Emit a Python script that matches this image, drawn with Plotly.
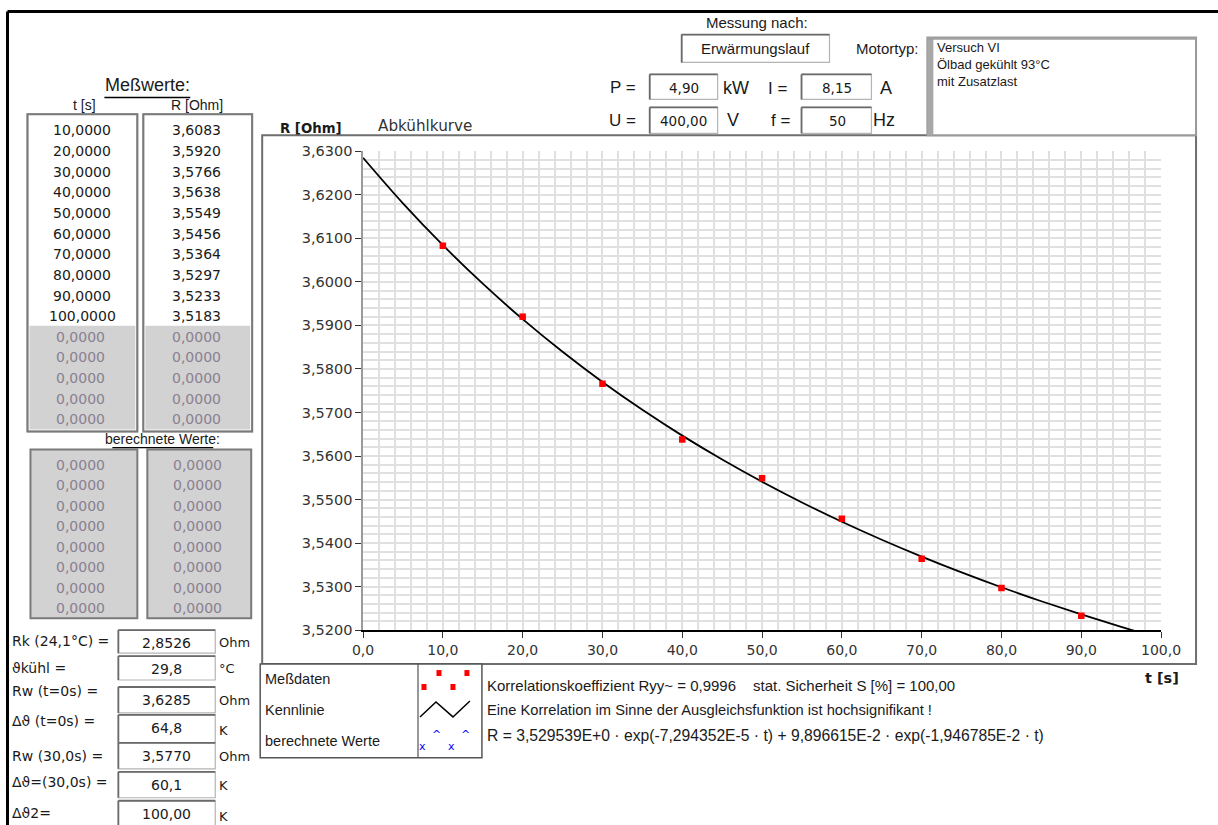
import plotly.graph_objects as go

# The photographed picture maps figure pixels f to picture pixels r as
# r = S*f + A (measured); positions below are given in picture pixels.
SX, AX = 0.9762, 10.5
SY, AY = 0.9833, 5.4
W, H = 1240, 842

# ---------------- data ----------------
t_meas = [10, 20, 30, 40, 50, 60, 70, 80, 90, 100]
r_meas = [3.6083, 3.5920, 3.5766, 3.5638, 3.5549, 3.5456, 3.5364, 3.5297, 3.5233, 3.5183]

t_fit = [0, 5, 10, 15, 20, 25, 30, 35, 40, 45, 50, 55, 60, 65, 70, 75, 80, 85, 90, 95, 100]
r_fit = [3.62851, 3.61804, 3.60843, 3.59958, 3.59144, 3.58394, 3.57701, 3.57061,
         3.56468, 3.55919, 3.55408, 3.54933, 3.54490, 3.54077, 3.53690, 3.53327,
         3.52985, 3.52664, 3.52361, 3.52074, 3.51801]

empty_meas_rows = 5
calc_rows = 8

x_range = [0, 100]
y_range = [3.52, 3.63]

header_vals = {"P": "4,90", "I": "8,15", "U": "400,00", "f": "50"}
motor_lines = ["Versuch VI", "Ölbad gekühlt 93°C", "mit Zusatzlast"]

param_labels = ["Rk (24,1°C) =", "ϑkühl =", "Rw (t=0s) =", "Δϑ (t=0s) =",
                "Rw (30,0s) =", "Δϑ=(30,0s) =", "Δϑ2="]
param_values = ["2,8526", "29,8", "3,6285", "64,8", "3,5770", "60,1", "100,00"]
param_units = ["Ohm", "°C", "Ohm", "K", "Ohm", "K", "K"]

stats_line1a = "Korrelationskoeffizient Ryy~ = 0,9996"
stats_line1b = "stat. Sicherheit S [%] = 100,00"
stats_line2 = "Eine Korrelation im Sinne der Ausgleichsfunktion ist hochsignifikant !"
stats_line3 = "R = 3,529539E+0 · exp(-7,294352E-5 · t) + 9,896615E-2 · exp(-1,946785E-2 · t)"

# ---------------- helpers ----------------
SANS = "DejaVu Sans"
NARROW = "Liberation Sans Narrow, Arial Narrow, Liberation Sans"
shapes = []
annotations = []


def X(p):
    return ((p - AX) / SX) / W


def Y(p):
    return 1 - ((p - AY) / SY) / H


def rect(x0, y0, x1, y1, line="#7a7a7a", width=1.5, fill=None, layer="above"):
    shapes.append(dict(type="rect", xref="paper", yref="paper",
                       x0=X(x0), x1=X(x1), y0=Y(y1), y1=Y(y0),
                       line=dict(color=line, width=width),
                       fillcolor=fill if fill else "rgba(0,0,0,0)", layer=layer))


def line(x0, y0, x1, y1, color="black", width=1.5, layer="above"):
    shapes.append(dict(type="line", xref="paper", yref="paper",
                       x0=X(x0), x1=X(x1), y0=Y(y0), y1=Y(y1),
                       line=dict(color=color, width=width), layer=layer))


def box3d(x0, y0, x1, y1, fill="white"):
    rect(x0, y0, x1, y1, line="#b4b4b4", width=1.2, fill=fill)
    line(x0, y0, x1, y0, color="#6a6a6a", width=1.8)
    line(x0, y0, x0, y1, color="#6a6a6a", width=1.8)


def txt(x, y, s, size=12, family=SANS, color="#1a1a1a", xanchor="left"):
    annotations.append(dict(x=X(x), y=Y(y), xref="paper", yref="paper", text=s,
                            showarrow=False, xanchor=xanchor, yanchor="middle",
                            font=dict(family=family, size=size, color=color),
                            borderpad=0))


def fmt(v, d):
    return f"{v:.{d}f}".replace(".", ",")


# ---------------- outer frame ----------------
line(7, 9, 1222, 9, width=3)
line(7, 9, 7, 830, width=3)

# ---------------- header ----------------
txt(757, 20, "Messung nach:", 15, NARROW, xanchor="center")
box3d(682, 32, 830, 60)
txt(756, 46, "Erwärmungslauf", 15, NARROW, xanchor="center")
txt(888, 46, "Motortyp:", 15, NARROW, xanchor="center")
rect(928, 35, 1197, 133, line="#9a9a9a", width=2, fill="white")
rect(928, 35, 934, 133, line="#a8a8a8", width=0, fill="#a8a8a8")
line(928, 36, 1197, 36, color="#a0a0a0", width=2.5)
for i, s in enumerate(motor_lines):
    txt(937, 45 + i * 17, s, 13, NARROW)

txt(623, 85, "P =", 17, NARROW, xanchor="center")
box3d(650, 72, 718, 97)
txt(684, 86, header_vals["P"], 13.5, SANS, xanchor="center")
txt(722, 86, "kW", 18, NARROW)
txt(778, 86, "I =", 17, NARROW, xanchor="center")
box3d(802, 72, 872, 97)
txt(838, 86, header_vals["I"], 13.5, SANS, xanchor="center")
txt(880, 86, "A", 18, NARROW)

txt(623, 118, "U =", 17, NARROW, xanchor="center")
box3d(650, 105, 718, 131)
txt(684, 119, header_vals["U"], 13.5, SANS, xanchor="center")
txt(726, 118, "V", 18, NARROW)
txt(781, 118, "f =", 17, NARROW, xanchor="center")
box3d(802, 105, 872, 131)
txt(838, 119, header_vals["f"], 13.5, SANS, xanchor="center")
txt(873, 118, "Hz", 18, NARROW)

# ---------------- left tables ----------------
txt(147, 83, "Meßwerte:", 18, NARROW, xanchor="center")
line(104, 95, 190, 95, width=1.5)
txt(84, 103, "t [s]", 14, NARROW, xanchor="center")
txt(197, 103, "R [Ohm]", 14, NARROW, xanchor="center")

rect(27, 112, 137, 430, fill="white", layer="below")
rect(143, 112, 252, 430, fill="white", layer="below")
rect(29, 324, 135, 428, line="#d2d2d2", width=0, fill="#d2d2d2", layer="below")
rect(145, 324, 250, 428, line="#d2d2d2", width=0, fill="#d2d2d2", layer="below")
rect(27, 112, 137, 430, line="#7a7a7a", width=2)
rect(143, 112, 252, 430, line="#7a7a7a", width=2)

row_step = 20.7
for i, (tv, rv) in enumerate(zip(t_meas, r_meas)):
    yy = 128 + i * row_step
    txt(82, yy, fmt(tv, 4), 14, SANS, xanchor="center")
    txt(196, yy, fmt(rv, 4), 14, SANS, xanchor="center")
for j in range(empty_meas_rows):
    yy = 128 + (len(t_meas) + j) * row_step
    txt(80, yy, fmt(0, 4), 14, SANS, "#8a8090", xanchor="center")
    txt(196, yy, fmt(0, 4), 14, SANS, "#8a8090", xanchor="center")

txt(162, 437, "berechnete Werte:", 14, NARROW, xanchor="center")
line(112, 446, 213, 446, width=1.2)
rect(30, 448, 137, 617, line="#7a7a7a", width=2, fill="#d2d2d2", layer="below")
rect(147, 448, 251, 617, line="#7a7a7a", width=2, fill="#d2d2d2", layer="below")
for j in range(calc_rows):
    yy = 463 + j * 20.6
    txt(80, yy, fmt(0, 4), 14, SANS, "#8a8090", xanchor="center")
    txt(197, yy, fmt(0, 4), 14, SANS, "#8a8090", xanchor="center")

# ---------------- parameter block ----------------
label_y = [640, 667, 690, 720, 755, 781, 812]
box_y = [(629, 652), (655, 679), (686, 712), (714, 742), (742, 768), (771, 797), (800, 826)]
unit_y = [641, 667, 700, 730, 756, 785, 816]
for lab, val, unit, ly, (b0, b1), uy in zip(param_labels, param_values, param_units,
                                            label_y, box_y, unit_y):
    txt(11, ly, lab, 14, SANS)
    box3d(118, b0, 215, b1)
    txt(166, min((b0 + b1) / 2 + 1, b0 + 13), val, 14, SANS, xanchor="center")
    txt(218, uy, unit, 13, SANS)

# ---------------- chart frame & labels ----------------
rect(262, 133, 1197, 663, line="#6e6e6e", width=2, fill="white", layer="below")
txt(311, 126, "<b>R [Ohm]</b>", 13.3, SANS, xanchor="center")
txt(377, 124, "Abkühlkurve", 15.2, SANS, "#333333")
txt(1163, 677, "<b>t [s]</b>", 14.5, SANS, xanchor="center")

# ---------------- legend box ----------------
rect(260, 663, 482, 757, line="#555555", width=1.5, fill="white")
line(418, 663, 418, 757, color="#555555", width=1.2)
txt(264, 678, "Meßdaten", 14.5, NARROW)
txt(264, 709, "Kennlinie", 14.5, NARROW)
txt(264, 740, "berechnete Werte", 14.5, NARROW)
for (cx, cy) in [(424, 686), (439, 672), (453, 686), (467, 672)]:
    rect(cx - 2.5, cy - 3, cx + 2.5, cy + 3, line="red", width=0, fill="red")
shapes.append(dict(type="path", xref="paper", yref="paper",
                   path="M {} {} L {} {} L {} {} L {} {}".format(
                       X(420), Y(716), X(436), Y(701), X(453), Y(716), X(470), Y(700)),
                   line=dict(color="black", width=1.5)))
for (cx, cy, s) in [(423, 746, "x"), (437, 734, "^"), (452, 746, "x"), (466, 734, "^")]:
    txt(cx, cy, s, 11, SANS, "blue", xanchor="center")

txt(486, 684, stats_line1a, 15, NARROW)
txt(752, 684, stats_line1b, 15, NARROW)
txt(486, 709, stats_line2, 14.7, NARROW)
txt(486, 735, stats_line3, 15.7, NARROW)

# ---------------- traces ----------------
fig = go.Figure()
fig.add_trace(go.Scatter(x=t_fit, y=r_fit, mode="lines", line=dict(color="black", width=1.8, shape="spline"),
                         showlegend=False, hoverinfo="skip"))
fig.add_trace(go.Scatter(x=t_meas, y=r_meas, mode="markers",
                         marker=dict(color="red", size=6.5, symbol="square"),
                         showlegend=False, cliponaxis=True))

GRID = "#e0e0e0"
fig.update_layout(
    width=W, height=H, autosize=False,
    margin=dict(l=0, r=0, t=0, b=0),
    paper_bgcolor="white", plot_bgcolor="white",
    separators=", ",
    showlegend=False,
    shapes=shapes, annotations=annotations,
    xaxis=dict(domain=[X(363), X(1162)], range=x_range, dtick=10, tick0=0,
               tickformat=".1f", showgrid=True, gridcolor=GRID, gridwidth=1.5,
               minor=dict(dtick=2, showgrid=True, gridcolor=GRID, gridwidth=1.5),
               showline=True, linecolor="black", linewidth=2, zeroline=False,
               ticks="outside", ticklen=6, tickcolor="#333", tickwidth=1,
               tickfont=dict(family=SANS, size=14, color="#333")),
    yaxis=dict(domain=[Y(629), Y(149)], range=y_range, dtick=0.01, tick0=3.52,
               tickformat=".4f", showgrid=True, gridcolor=GRID, gridwidth=1.5,
               minor=dict(dtick=0.002, showgrid=True, gridcolor=GRID, gridwidth=1.5),
               showline=True, linecolor="#9a9a9a", linewidth=1.5, zeroline=False,
               ticks="outside", ticklen=6, tickcolor="#333", tickwidth=1,
               tickfont=dict(family=SANS, size=14.5, color="#333")),
)

fig.write_html("out.html")
